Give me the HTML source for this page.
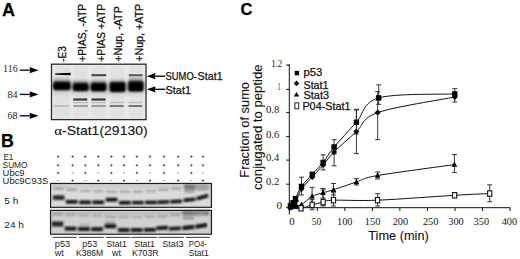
<!DOCTYPE html>
<html><head><meta charset="utf-8"><style>
html,body{margin:0;padding:0;background:#fff;width:520px;height:259px;overflow:hidden;}
svg{display:block;}
text{stroke:currentColor;stroke-width:0.25px;}
text.n{stroke:none;}
text.l{stroke-width:0.1px;}
</style></head><body>
<svg width="520" height="259" viewBox="0 0 520 259">
<defs>
<filter id="b1" x="-5%" y="-5%" width="110%" height="110%"><feGaussianBlur stdDeviation="1.0"/></filter>
<filter id="b3" x="-10%" y="-30%" width="120%" height="160%"><feGaussianBlur stdDeviation="0.9"/></filter>
<filter id="b4" x="-10%" y="-50%" width="120%" height="200%"><feGaussianBlur stdDeviation="0.6"/></filter>
<linearGradient id="sm" x1="0" y1="0" x2="0" y2="1"><stop offset="0" stop-color="#888" stop-opacity="0"/><stop offset="1" stop-color="#333"/></linearGradient>
<filter id="b2" x="-5%" y="-10%" width="110%" height="120%"><feGaussianBlur stdDeviation="0.9"/></filter>
</defs>
<rect width="520" height="259" fill="#fff"/>
<text class="" x="1.9" y="15.5" font-family='"Liberation Sans", sans-serif' font-size="18" font-weight="bold" text-anchor="start" fill="#000" color="#000" >A</text>
<text class="" x="1.0" y="147.2" font-family='"Liberation Sans", sans-serif' font-size="17.8" font-weight="bold" text-anchor="start" fill="#000" color="#000" >B</text>
<text class="" x="240.5" y="15.0" font-family='"Liberation Sans", sans-serif' font-size="16.5" font-weight="bold" text-anchor="start" fill="#000" color="#000" >C</text>
<text class="" transform="translate(66.2,61.8) rotate(-90)" font-family='"Liberation Sans", sans-serif' font-size="10" fill="#111" color="#111" textLength="15.6" lengthAdjust="spacingAndGlyphs">-E3</text>
<text class="" transform="translate(85.5,61.8) rotate(-90)" font-family='"Liberation Sans", sans-serif' font-size="10" fill="#111" color="#111" textLength="58" lengthAdjust="spacingAndGlyphs">+PIAS, -ATP</text>
<text class="" transform="translate(104.9,61.8) rotate(-90)" font-family='"Liberation Sans", sans-serif' font-size="10" fill="#111" color="#111" textLength="58" lengthAdjust="spacingAndGlyphs">+PIAS +ATP</text>
<text class="" transform="translate(121.6,61.8) rotate(-90)" font-family='"Liberation Sans", sans-serif' font-size="10" fill="#111" color="#111" textLength="55.6" lengthAdjust="spacingAndGlyphs">+Nup, -ATP</text>
<text class="" transform="translate(142.5,61.8) rotate(-90)" font-family='"Liberation Sans", sans-serif' font-size="10" fill="#111" color="#111" textLength="58" lengthAdjust="spacingAndGlyphs">+Nup, +ATP</text>
<g filter="url(#b1)">
<rect x="51.5" y="64.2" width="94.5" height="55.4" fill="#e9e9e9"/>
<rect x="53.9" y="66" width="15.899999999999999" height="52" fill="#e1e1e1"/>
<rect x="73.6" y="66" width="14.200000000000003" height="52" fill="#e1e1e1"/>
<rect x="91.5" y="66" width="14.099999999999994" height="52" fill="#e1e1e1"/>
<rect x="110.5" y="66" width="14.200000000000003" height="52" fill="#e1e1e1"/>
<rect x="129" y="66" width="13.699999999999989" height="52" fill="#e1e1e1"/>
<rect x="52" y="81" width="93" height="11" fill="#c4c4c4"/>
<rect x="52" y="92" width="93" height="4" fill="#d8d8d8"/>
<rect x="53.4" y="76.5" width="16.9" height="7.5" fill="url(#sm)" opacity="0.95"/>
<rect x="73.1" y="78.5" width="15.200000000000003" height="6.5" fill="url(#sm)" opacity="0.85"/>
<rect x="91.0" y="78" width="15.099999999999994" height="7" fill="url(#sm)" opacity="0.9"/>
<rect x="110.0" y="78" width="15.200000000000003" height="6.5" fill="url(#sm)" opacity="0.85"/>
<rect x="128.5" y="75.5" width="14.699999999999989" height="8.0" fill="url(#sm)" opacity="1.0"/>
</g>
<g filter="url(#b3)">
<rect x="52.9" y="82.0" width="17.9" height="8.299999999999997" rx="3" fill="#000"/>
<rect x="72.6" y="83.2" width="16.200000000000003" height="8.0" rx="3" fill="#000"/>
<rect x="90.5" y="83.1" width="16.099999999999994" height="8.300000000000011" rx="3" fill="#000"/>
<rect x="109.5" y="82.2" width="16.200000000000003" height="10.0" rx="3" fill="#000"/>
<rect x="128" y="81.6" width="15.699999999999989" height="10.200000000000003" rx="3" fill="#000"/>
</g>
<g filter="url(#b4)">
<path d="M55.2 73.5 L70.6 72.8 L70.6 75.2 L55.2 74.8 Z" fill="#000"/>
<rect x="91.5" y="74.2" width="14.8" height="2" fill="#444"/>
<rect x="128.8" y="74.2" width="13.8" height="2" fill="#5a5a5a"/>
<rect x="73.3" y="98.4" width="14" height="2.2" fill="#3a3a3a"/>
<rect x="91.4" y="98.4" width="14.2" height="2.2" fill="#3a3a3a"/>
<rect x="73.3" y="105" width="14.700000000000003" height="2" fill="#a0a0a0"/>
<rect x="91.4" y="105" width="14.599999999999994" height="2" fill="#a0a0a0"/>
<rect x="109.7" y="105" width="14.0" height="2" fill="#7a7a7a"/>
<rect x="128.4" y="105" width="13.900000000000006" height="2" fill="#7a7a7a"/>
<rect x="53.7" y="105" width="15.0" height="2" fill="#c0c0c0"/>
<rect x="109.7" y="101.8" width="14.0" height="1.5" fill="#c0c0c0"/>
<rect x="128.4" y="101.8" width="13.900000000000006" height="1.5" fill="#c0c0c0"/>
<rect x="73.3" y="101.8" width="14.700000000000003" height="1.5" fill="#c0c0c0"/>
<rect x="91.4" y="101.8" width="14.599999999999994" height="1.5" fill="#c0c0c0"/>
</g>
<rect x="51.5" y="64.2" width="94.5" height="55.4" fill="none" stroke="#2a2a2a" stroke-width="1.3"/>
<text class="n" x="3.0" y="72.4" font-family='"Liberation Serif", serif' font-size="10" font-weight="normal" text-anchor="start" fill="#222" color="#222" >116</text>
<line x1="19.8" y1="70.2" x2="31" y2="70.2" stroke="#111" stroke-width="1.4"/>
<path d="M38.6 70.2 L29.4 67.10000000000001 L30.4 70.2 L29.4 73.3 Z" fill="#000"/>
<text class="n" x="7.5" y="97.5" font-family='"Liberation Serif", serif' font-size="10" font-weight="normal" text-anchor="start" fill="#222" color="#222" >84</text>
<line x1="19.8" y1="94.4" x2="31" y2="94.4" stroke="#111" stroke-width="1.4"/>
<path d="M38.6 94.4 L29.4 91.30000000000001 L30.4 94.4 L29.4 97.5 Z" fill="#000"/>
<text class="n" x="7.5" y="118.8" font-family='"Liberation Serif", serif' font-size="10" font-weight="normal" text-anchor="start" fill="#222" color="#222" >68</text>
<line x1="19.8" y1="115.8" x2="31" y2="115.8" stroke="#111" stroke-width="1.4"/>
<path d="M38.6 115.8 L29.4 112.7 L30.4 115.8 L29.4 118.89999999999999 Z" fill="#000"/>
<line x1="154" y1="76.2" x2="165.3" y2="76.2" stroke="#111" stroke-width="1.4"/>
<path d="M146.8 76.2 L155.6 73.10000000000001 L154.6 76.2 L155.6 79.3 Z" fill="#000"/>
<line x1="154" y1="89.3" x2="165.3" y2="89.3" stroke="#111" stroke-width="1.4"/>
<path d="M146.8 89.3 L155.6 86.2 L154.6 89.3 L155.6 92.39999999999999 Z" fill="#000"/>
<text class="" x="165.6" y="79.9" font-family='"Liberation Sans", sans-serif' font-size="10.6" font-weight="normal" text-anchor="start" fill="#111" color="#111" textLength="31.2" lengthAdjust="spacingAndGlyphs" >SUMO-</text>
<text class="" x="197.6" y="79.9" font-family='"Liberation Sans", sans-serif' font-size="10.6" font-weight="normal" text-anchor="start" fill="#111" color="#111" textLength="25.0" lengthAdjust="spacingAndGlyphs" >Stat1</text>
<text class="" x="165.6" y="93.9" font-family='"Liberation Sans", sans-serif' font-size="10.6" font-weight="normal" text-anchor="start" fill="#111" color="#111" textLength="25.4" lengthAdjust="spacingAndGlyphs" >Stat1</text>
<text class="l" x="54.2" y="135.3" font-family='"Liberation Sans", sans-serif' font-size="12.2" font-weight="normal" text-anchor="start" fill="#111" color="#111" textLength="93.5" lengthAdjust="spacingAndGlyphs" ><tspan font-family='"Liberation Serif", serif' font-size="13">&#945;</tspan>-Stat1(29130)</text>
<text class="n" x="3.4" y="159.5" font-family='"Liberation Sans", sans-serif' font-size="9.7" font-weight="normal" text-anchor="start" fill="#1a1a1a" color="#1a1a1a" textLength="9.8" lengthAdjust="spacingAndGlyphs" >E1</text>
<text class="n" x="2.6" y="167.6" font-family='"Liberation Sans", sans-serif' font-size="9.7" font-weight="normal" text-anchor="start" fill="#1a1a1a" color="#1a1a1a" textLength="24.9" lengthAdjust="spacingAndGlyphs" >SUMO</text>
<text class="n" x="2.6" y="175.5" font-family='"Liberation Sans", sans-serif' font-size="9.7" font-weight="normal" text-anchor="start" fill="#1a1a1a" color="#1a1a1a" textLength="22.0" lengthAdjust="spacingAndGlyphs" >Ubc9</text>
<text class="n" x="2.6" y="184.1" font-family='"Liberation Sans", sans-serif' font-size="9.7" font-weight="normal" text-anchor="start" fill="#1a1a1a" color="#1a1a1a" textLength="45.6" lengthAdjust="spacingAndGlyphs" >Ubc9C93S</text>
<path d="M56.9 156.6 H59.300000000000004 M58.1 155.4 V157.79999999999998" stroke="#444" stroke-width="0.85"/>
<path d="M56.9 165.3 H59.300000000000004 M58.1 164.10000000000002 V166.5" stroke="#444" stroke-width="0.85"/>
<path d="M56.9 172.9 H59.300000000000004 M58.1 171.70000000000002 V174.1" stroke="#444" stroke-width="0.85"/>
<path d="M57.1 180.6 H59.1" stroke="#777" stroke-width="0.8"/>
<path d="M71.39999999999999 156.6 H73.8 M72.6 155.4 V157.79999999999998" stroke="#444" stroke-width="0.85"/>
<path d="M71.39999999999999 165.3 H73.8 M72.6 164.10000000000002 V166.5" stroke="#444" stroke-width="0.85"/>
<path d="M71.6 172.9 H73.6" stroke="#777" stroke-width="0.8"/>
<path d="M71.39999999999999 180.6 H73.8 M72.6 179.4 V181.79999999999998" stroke="#444" stroke-width="0.85"/>
<path d="M84.1 156.6 H86.5 M85.3 155.4 V157.79999999999998" stroke="#444" stroke-width="0.85"/>
<path d="M84.1 165.3 H86.5 M85.3 164.10000000000002 V166.5" stroke="#444" stroke-width="0.85"/>
<path d="M84.1 172.9 H86.5 M85.3 171.70000000000002 V174.1" stroke="#444" stroke-width="0.85"/>
<path d="M84.3 180.6 H86.3" stroke="#777" stroke-width="0.8"/>
<path d="M97.1 156.6 H99.5 M98.3 155.4 V157.79999999999998" stroke="#444" stroke-width="0.85"/>
<path d="M97.1 165.3 H99.5 M98.3 164.10000000000002 V166.5" stroke="#444" stroke-width="0.85"/>
<path d="M97.3 172.9 H99.3" stroke="#777" stroke-width="0.8"/>
<path d="M97.1 180.6 H99.5 M98.3 179.4 V181.79999999999998" stroke="#444" stroke-width="0.85"/>
<path d="M110.2 156.6 H112.60000000000001 M111.4 155.4 V157.79999999999998" stroke="#444" stroke-width="0.85"/>
<path d="M110.2 165.3 H112.60000000000001 M111.4 164.10000000000002 V166.5" stroke="#444" stroke-width="0.85"/>
<path d="M110.2 172.9 H112.60000000000001 M111.4 171.70000000000002 V174.1" stroke="#444" stroke-width="0.85"/>
<path d="M110.4 180.6 H112.4" stroke="#777" stroke-width="0.8"/>
<path d="M122.89999999999999 156.6 H125.3 M124.1 155.4 V157.79999999999998" stroke="#444" stroke-width="0.85"/>
<path d="M122.89999999999999 165.3 H125.3 M124.1 164.10000000000002 V166.5" stroke="#444" stroke-width="0.85"/>
<path d="M123.1 172.9 H125.1" stroke="#777" stroke-width="0.8"/>
<path d="M122.89999999999999 180.6 H125.3 M124.1 179.4 V181.79999999999998" stroke="#444" stroke-width="0.85"/>
<path d="M135.70000000000002 156.6 H138.1 M136.9 155.4 V157.79999999999998" stroke="#444" stroke-width="0.85"/>
<path d="M135.70000000000002 165.3 H138.1 M136.9 164.10000000000002 V166.5" stroke="#444" stroke-width="0.85"/>
<path d="M135.70000000000002 172.9 H138.1 M136.9 171.70000000000002 V174.1" stroke="#444" stroke-width="0.85"/>
<path d="M135.9 180.6 H137.9" stroke="#777" stroke-width="0.8"/>
<path d="M148.8 156.6 H151.2 M150.0 155.4 V157.79999999999998" stroke="#444" stroke-width="0.85"/>
<path d="M148.8 165.3 H151.2 M150.0 164.10000000000002 V166.5" stroke="#444" stroke-width="0.85"/>
<path d="M149.0 172.9 H151.0" stroke="#777" stroke-width="0.8"/>
<path d="M148.8 180.6 H151.2 M150.0 179.4 V181.79999999999998" stroke="#444" stroke-width="0.85"/>
<path d="M162.9 156.6 H165.29999999999998 M164.1 155.4 V157.79999999999998" stroke="#444" stroke-width="0.85"/>
<path d="M162.9 165.3 H165.29999999999998 M164.1 164.10000000000002 V166.5" stroke="#444" stroke-width="0.85"/>
<path d="M162.9 172.9 H165.29999999999998 M164.1 171.70000000000002 V174.1" stroke="#444" stroke-width="0.85"/>
<path d="M163.1 180.6 H165.1" stroke="#777" stroke-width="0.8"/>
<path d="M177.0 156.6 H179.39999999999998 M178.2 155.4 V157.79999999999998" stroke="#444" stroke-width="0.85"/>
<path d="M177.0 165.3 H179.39999999999998 M178.2 164.10000000000002 V166.5" stroke="#444" stroke-width="0.85"/>
<path d="M177.2 172.9 H179.2" stroke="#777" stroke-width="0.8"/>
<path d="M177.0 180.6 H179.39999999999998 M178.2 179.4 V181.79999999999998" stroke="#444" stroke-width="0.85"/>
<path d="M190.20000000000002 156.6 H192.6 M191.4 155.4 V157.79999999999998" stroke="#444" stroke-width="0.85"/>
<path d="M190.20000000000002 165.3 H192.6 M191.4 164.10000000000002 V166.5" stroke="#444" stroke-width="0.85"/>
<path d="M190.20000000000002 172.9 H192.6 M191.4 171.70000000000002 V174.1" stroke="#444" stroke-width="0.85"/>
<path d="M190.4 180.6 H192.4" stroke="#777" stroke-width="0.8"/>
<path d="M201.70000000000002 156.6 H204.1 M202.9 155.4 V157.79999999999998" stroke="#444" stroke-width="0.85"/>
<path d="M201.70000000000002 165.3 H204.1 M202.9 164.10000000000002 V166.5" stroke="#444" stroke-width="0.85"/>
<path d="M201.9 172.9 H203.9" stroke="#777" stroke-width="0.8"/>
<path d="M201.70000000000002 180.6 H204.1 M202.9 179.4 V181.79999999999998" stroke="#444" stroke-width="0.85"/>
<g filter="url(#b2)">
<rect x="50.6" y="183.5" width="161" height="23.80000000000001" fill="#cfcfcf"/>
<rect x="52" y="188.5" width="158" height="16.80000000000001" fill="#dbdbdb"/>
<rect x="52" y="184" width="158" height="3" fill="#cacaca"/>
<rect x="184" y="184" width="11.5" height="6" fill="#7c7c7c"/>
<rect x="196" y="184" width="13" height="6.5" fill="#a0a0a0"/>
<rect x="53.5" y="187.7" width="10.4" height="2" fill="#8a8a8a"/>
<rect x="66.5" y="188.8" width="10.4" height="2" fill="#949494"/>
<rect x="79.89999999999999" y="190" width="10.4" height="2" fill="#a0a0a0"/>
<rect x="93.1" y="190.3" width="10.4" height="2" fill="#a0a0a0"/>
<rect x="106.39999999999999" y="190.6" width="10.4" height="2" fill="#989898"/>
<rect x="119.7" y="190.6" width="10.4" height="2" fill="#9a9a9a"/>
<rect x="132.70000000000002" y="190.6" width="10.4" height="2" fill="#9a9a9a"/>
<rect x="145.8" y="190.2" width="10.4" height="2" fill="#a0a0a0"/>
<rect x="158.20000000000002" y="188.8" width="10.4" height="2" fill="#9a9a9a"/>
<rect x="171.0" y="187.8" width="10.4" height="2" fill="#9a9a9a"/>
<rect x="184.3" y="190.7" width="10.4" height="2" fill="#8a8a8a"/>
<rect x="197.20000000000002" y="189" width="10.4" height="2" fill="#a8a8a8"/>
</g>
<g filter="url(#b3)">
<path d="M52.900000000000006 195.2 L64.5 195.2 L64.5 200.0 L52.900000000000006 200.0 Z" fill="#2a2a2a"/>
<path d="M65.9 200.0 L77.5 200.0 L77.5 203.60000000000002 L65.9 203.60000000000002 Z" fill="#080808"/>
<path d="M79.3 200.5 L90.89999999999999 200.5 L90.89999999999999 204.10000000000002 L79.3 204.10000000000002 Z" fill="#080808"/>
<path d="M92.5 200.5 L104.1 200.5 L104.1 204.10000000000002 L92.5 204.10000000000002 Z" fill="#080808"/>
<path d="M105.8 197.79999999999998 L117.39999999999999 197.79999999999998 L117.39999999999999 201.6 L105.8 201.6 Z" fill="#101010"/>
<path d="M119.10000000000001 200.89999999999998 L130.70000000000002 200.89999999999998 L130.70000000000002 204.5 L119.10000000000001 204.5 Z" fill="#080808"/>
<path d="M132.1 200.9 L143.70000000000002 200.9 L143.70000000000002 204.29999999999998 L132.1 204.29999999999998 Z" fill="#080808"/>
<path d="M145.2 200.70000000000002 L156.8 200.70000000000002 L156.8 204.1 L145.2 204.1 Z" fill="#080808"/>
<path d="M157.6 200.60000000000002 L169.20000000000002 200.20000000000002 L169.20000000000002 203.6 L157.6 204.0 Z" fill="#080808"/>
<path d="M170.39999999999998 200.10000000000002 L182.0 199.5 L182.0 202.89999999999998 L170.39999999999998 203.5 Z" fill="#080808"/>
<path d="M183.7 198.60000000000002 L195.3 197.5 L195.3 200.89999999999998 L183.7 202.0 Z" fill="#080808"/>
<path d="M196.6 196.7 L208.20000000000002 193.7 L208.20000000000002 197.5 L196.6 200.5 Z" fill="#080808"/>
</g>
<rect x="50.6" y="183.5" width="160.8" height="23.80000000000001" fill="none" stroke="#1e1e1e" stroke-width="1.2"/>
<g filter="url(#b2)">
<rect x="50.6" y="210.4" width="161" height="23.799999999999983" fill="#c4c4c4"/>
<rect x="52" y="215.4" width="158" height="16.799999999999983" fill="#d0d0d0"/>
<rect x="52" y="210.5" width="158" height="3.0" fill="#bcbcbc"/>
<rect x="182.5" y="210.5" width="12.0" height="5.300000000000011" fill="#7a7a7a"/>
<rect x="195" y="210.5" width="13.5" height="5.0" fill="#6c6c6c"/>
<rect x="79" y="223.4" width="11" height="2.9000000000000057" fill="#b0b0b0"/>
<rect x="105" y="221" width="10" height="3.5" fill="#a0a0a0"/>
<rect x="52.3" y="213.3" width="10.4" height="2" fill="#909090"/>
<rect x="65.3" y="213.7" width="10.4" height="2" fill="#989898"/>
<rect x="78.69999999999999" y="214.5" width="10.4" height="2" fill="#a0a0a0"/>
<rect x="91.89999999999999" y="215" width="10.4" height="2" fill="#a4a4a4"/>
<rect x="105.19999999999999" y="216" width="10.4" height="2" fill="#989898"/>
<rect x="118.5" y="216" width="10.4" height="2" fill="#9c9c9c"/>
<rect x="131.50000000000003" y="216" width="10.4" height="2" fill="#a8a8a8"/>
<rect x="144.60000000000002" y="215.8" width="10.4" height="2" fill="#a0a0a0"/>
<rect x="157.00000000000003" y="215.5" width="10.4" height="2" fill="#989898"/>
<rect x="169.8" y="213.9" width="10.4" height="2" fill="#949494"/>
<rect x="183.10000000000002" y="217.3" width="10.4" height="2" fill="#7a7a7a"/>
<rect x="196.00000000000003" y="212.5" width="10.4" height="2" fill="#a0a0a0"/>
</g>
<g filter="url(#b3)">
<path d="M51.7 221.4 L63.3 221.4 L63.3 226.6 L51.7 226.6 Z" fill="#262626"/>
<path d="M64.7 226.7 L76.3 226.7 L76.3 230.5 L64.7 230.5 Z" fill="#080808"/>
<path d="M78.1 227.1 L89.69999999999999 227.1 L89.69999999999999 230.9 L78.1 230.9 Z" fill="#080808"/>
<path d="M91.3 227.29999999999998 L102.89999999999999 227.29999999999998 L102.89999999999999 231.1 L91.3 231.1 Z" fill="#080808"/>
<path d="M104.6 224.2 L116.19999999999999 224.2 L116.19999999999999 228.2 L104.6 228.2 Z" fill="#101010"/>
<path d="M117.9 228.2 L129.5 228.2 L129.5 231.8 L117.9 231.8 Z" fill="#080808"/>
<path d="M130.9 228.2 L142.50000000000003 228.2 L142.50000000000003 231.8 L130.9 231.8 Z" fill="#080808"/>
<path d="M144.0 228.0 L155.60000000000002 228.0 L155.60000000000002 231.60000000000002 L144.0 231.60000000000002 Z" fill="#080808"/>
<path d="M156.4 226.39999999999998 L168.00000000000003 225.79999999999998 L168.00000000000003 229.4 L156.4 230.0 Z" fill="#080808"/>
<path d="M169.2 227.0 L180.8 226.39999999999998 L180.8 230.0 L169.2 230.60000000000002 Z" fill="#080808"/>
<path d="M182.5 226.1 L194.10000000000002 225.1 L194.10000000000002 228.9 L182.5 229.9 Z" fill="#080808"/>
<path d="M195.4 224.8 L207.00000000000003 223.0 L207.00000000000003 227.0 L195.4 228.8 Z" fill="#080808"/>
</g>
<rect x="50.6" y="210.4" width="160.8" height="23.799999999999983" fill="none" stroke="#1e1e1e" stroke-width="1.2"/>
<text class="n" x="4.3" y="204.3" font-family='"Liberation Sans", sans-serif' font-size="9.4" font-weight="normal" text-anchor="start" fill="#1a1a1a" color="#1a1a1a" textLength="14" lengthAdjust="spacingAndGlyphs" >5 h</text>
<text class="n" x="4.3" y="227.5" font-family='"Liberation Sans", sans-serif' font-size="9.4" font-weight="normal" text-anchor="start" fill="#1a1a1a" color="#1a1a1a" textLength="19.7" lengthAdjust="spacingAndGlyphs" >24 h</text>
<line x1="52.7" y1="237.4" x2="76.7" y2="237.4" stroke="#4a4a4a" stroke-width="1.1"/>
<line x1="79.2" y1="237.4" x2="103.7" y2="237.4" stroke="#4a4a4a" stroke-width="1.1"/>
<line x1="105.6" y1="237.4" x2="130.6" y2="237.4" stroke="#4a4a4a" stroke-width="1.1"/>
<line x1="131.5" y1="237.4" x2="157" y2="237.4" stroke="#4a4a4a" stroke-width="1.1"/>
<line x1="158.5" y1="237.4" x2="183.8" y2="237.4" stroke="#4a4a4a" stroke-width="1.1"/>
<line x1="185.8" y1="237.4" x2="209.8" y2="237.4" stroke="#4a4a4a" stroke-width="1.1"/>
<text class="n" x="54.8" y="246.5" font-family='"Liberation Sans", sans-serif' font-size="8.2" font-weight="normal" text-anchor="start" fill="#1a1a1a" color="#1a1a1a" textLength="15.4" lengthAdjust="spacingAndGlyphs" >p53</text>
<text class="n" x="54.8" y="256.2" font-family='"Liberation Sans", sans-serif' font-size="8.2" font-weight="normal" text-anchor="start" fill="#1a1a1a" color="#1a1a1a" textLength="9.0" lengthAdjust="spacingAndGlyphs" >wt</text>
<text class="n" x="82.3" y="246.5" font-family='"Liberation Sans", sans-serif' font-size="8.2" font-weight="normal" text-anchor="start" fill="#1a1a1a" color="#1a1a1a" textLength="15.0" lengthAdjust="spacingAndGlyphs" >p53</text>
<text class="n" x="76.0" y="256.2" font-family='"Liberation Sans", sans-serif' font-size="8.2" font-weight="normal" text-anchor="start" fill="#1a1a1a" color="#1a1a1a" textLength="27.1" lengthAdjust="spacingAndGlyphs" >K386M</text>
<text class="n" x="106.5" y="246.5" font-family='"Liberation Sans", sans-serif' font-size="8.2" font-weight="normal" text-anchor="start" fill="#1a1a1a" color="#1a1a1a" textLength="20.2" lengthAdjust="spacingAndGlyphs" >Stat1</text>
<text class="n" x="112" y="256.2" font-family='"Liberation Sans", sans-serif' font-size="8.2" font-weight="normal" text-anchor="start" fill="#1a1a1a" color="#1a1a1a" textLength="9.0" lengthAdjust="spacingAndGlyphs" >wt</text>
<text class="n" x="134.2" y="246.5" font-family='"Liberation Sans", sans-serif' font-size="8.2" font-weight="normal" text-anchor="start" fill="#1a1a1a" color="#1a1a1a" textLength="20.8" lengthAdjust="spacingAndGlyphs" >Stat1</text>
<text class="n" x="132" y="256.2" font-family='"Liberation Sans", sans-serif' font-size="8.2" font-weight="normal" text-anchor="start" fill="#1a1a1a" color="#1a1a1a" textLength="26.5" lengthAdjust="spacingAndGlyphs" >K703R</text>
<text class="n" x="162.3" y="246.5" font-family='"Liberation Sans", sans-serif' font-size="8.2" font-weight="normal" text-anchor="start" fill="#1a1a1a" color="#1a1a1a" textLength="21.2" lengthAdjust="spacingAndGlyphs" >Stat3</text>
<text class="n" x="188.7" y="246.5" font-family='"Liberation Sans", sans-serif' font-size="8.2" font-weight="normal" text-anchor="start" fill="#1a1a1a" color="#1a1a1a" textLength="18.3" lengthAdjust="spacingAndGlyphs" >PO4-</text>
<text class="n" x="188.7" y="256.2" font-family='"Liberation Sans", sans-serif' font-size="8.2" font-weight="normal" text-anchor="start" fill="#1a1a1a" color="#1a1a1a" textLength="20.1" lengthAdjust="spacingAndGlyphs" >Stat1</text>
<text class="l" transform="translate(248.6,177.7) rotate(-90)" font-family='"Liberation Sans", sans-serif' font-size="13" fill="#111" color="#111" textLength="95.7" lengthAdjust="spacingAndGlyphs">Fraction of sumo</text>
<text class="l" transform="translate(262.0,190.0) rotate(-90)" font-family='"Liberation Sans", sans-serif' font-size="13" fill="#111" color="#111" textLength="125.5" lengthAdjust="spacingAndGlyphs">conjugated to peptide</text>
<line x1="289.3" y1="64.2" x2="289.3" y2="214.5" stroke="#111" stroke-width="1"/>
<line x1="289.3" y1="207.7" x2="510.2" y2="207.7" stroke="#111" stroke-width="1"/>
<line x1="286.2" y1="65.0" x2="289.3" y2="65.0" stroke="#111" stroke-width="1"/>
<line x1="286.2" y1="89.4" x2="289.3" y2="89.4" stroke="#111" stroke-width="1"/>
<line x1="286.2" y1="112.6" x2="289.3" y2="112.6" stroke="#111" stroke-width="1"/>
<line x1="286.2" y1="136.6" x2="289.3" y2="136.6" stroke="#111" stroke-width="1"/>
<line x1="286.2" y1="160.1" x2="289.3" y2="160.1" stroke="#111" stroke-width="1"/>
<line x1="286.2" y1="184.2" x2="289.3" y2="184.2" stroke="#111" stroke-width="1"/>
<line x1="286.2" y1="207.7" x2="289.3" y2="207.7" stroke="#111" stroke-width="1"/>
<line x1="289.8" y1="207.7" x2="289.8" y2="211" stroke="#111" stroke-width="1"/>
<line x1="317.3" y1="207.7" x2="317.3" y2="211" stroke="#111" stroke-width="1"/>
<line x1="344.9" y1="207.7" x2="344.9" y2="211" stroke="#111" stroke-width="1"/>
<line x1="372.4" y1="207.7" x2="372.4" y2="211" stroke="#111" stroke-width="1"/>
<line x1="399.9" y1="207.7" x2="399.9" y2="211" stroke="#111" stroke-width="1"/>
<line x1="427.4" y1="207.7" x2="427.4" y2="211" stroke="#111" stroke-width="1"/>
<line x1="455.0" y1="207.7" x2="455.0" y2="211" stroke="#111" stroke-width="1"/>
<line x1="482.5" y1="207.7" x2="482.5" y2="211" stroke="#111" stroke-width="1"/>
<line x1="510.0" y1="207.7" x2="510.0" y2="211" stroke="#111" stroke-width="1"/>
<text class="n" x="271.2" y="67.0" font-family='"Liberation Serif", serif' font-size="9.6" font-weight="normal" text-anchor="start" fill="#1a1a1a" color="#1a1a1a" textLength="11.1" lengthAdjust="spacingAndGlyphs" >1.2</text>
<text class="n" x="277.8" y="89.7" font-family='"Liberation Serif", serif' font-size="9.6" font-weight="normal" text-anchor="start" fill="#1a1a1a" color="#1a1a1a" textLength="2.8" lengthAdjust="spacingAndGlyphs" >1</text>
<text class="n" x="265.9" y="113.0" font-family='"Liberation Serif", serif' font-size="9.6" font-weight="normal" text-anchor="start" fill="#1a1a1a" color="#1a1a1a" textLength="13.4" lengthAdjust="spacingAndGlyphs" >0.8</text>
<text class="n" x="266" y="137.6" font-family='"Liberation Serif", serif' font-size="9.6" font-weight="normal" text-anchor="start" fill="#1a1a1a" color="#1a1a1a" textLength="13.4" lengthAdjust="spacingAndGlyphs" >0.6</text>
<text class="n" x="266" y="160.6" font-family='"Liberation Serif", serif' font-size="9.6" font-weight="normal" text-anchor="start" fill="#1a1a1a" color="#1a1a1a" textLength="13.2" lengthAdjust="spacingAndGlyphs" >0.4</text>
<text class="n" x="266" y="185.1" font-family='"Liberation Serif", serif' font-size="9.6" font-weight="normal" text-anchor="start" fill="#1a1a1a" color="#1a1a1a" textLength="13.2" lengthAdjust="spacingAndGlyphs" >0.2</text>
<text class="n" x="276.4" y="208.5" font-family='"Liberation Serif", serif' font-size="9.6" font-weight="normal" text-anchor="start" fill="#1a1a1a" color="#1a1a1a" textLength="5.6" lengthAdjust="spacingAndGlyphs" >0</text>
<text class="n" x="289.2" y="224.5" font-family='"Liberation Serif", serif' font-size="9.6" font-weight="normal" text-anchor="start" fill="#1a1a1a" color="#1a1a1a" textLength="5.4" lengthAdjust="spacingAndGlyphs" >0</text>
<text class="n" x="311.8" y="224.5" font-family='"Liberation Serif", serif' font-size="9.6" font-weight="normal" text-anchor="start" fill="#1a1a1a" color="#1a1a1a" textLength="9.4" lengthAdjust="spacingAndGlyphs" >50</text>
<text class="n" x="337.0" y="224.5" font-family='"Liberation Serif", serif' font-size="9.6" font-weight="normal" text-anchor="start" fill="#1a1a1a" color="#1a1a1a" textLength="15.5" lengthAdjust="spacingAndGlyphs" >100</text>
<text class="n" x="364.8" y="224.5" font-family='"Liberation Serif", serif' font-size="9.6" font-weight="normal" text-anchor="start" fill="#1a1a1a" color="#1a1a1a" textLength="15.5" lengthAdjust="spacingAndGlyphs" >150</text>
<text class="n" x="392.65" y="224.5" font-family='"Liberation Serif", serif' font-size="9.6" font-weight="normal" text-anchor="start" fill="#1a1a1a" color="#1a1a1a" textLength="15.5" lengthAdjust="spacingAndGlyphs" >200</text>
<text class="n" x="422.95" y="224.5" font-family='"Liberation Serif", serif' font-size="9.6" font-weight="normal" text-anchor="start" fill="#1a1a1a" color="#1a1a1a" textLength="15.5" lengthAdjust="spacingAndGlyphs" >250</text>
<text class="n" x="448.25" y="224.5" font-family='"Liberation Serif", serif' font-size="9.6" font-weight="normal" text-anchor="start" fill="#1a1a1a" color="#1a1a1a" textLength="15.5" lengthAdjust="spacingAndGlyphs" >300</text>
<text class="n" x="473.55" y="224.5" font-family='"Liberation Serif", serif' font-size="9.6" font-weight="normal" text-anchor="start" fill="#1a1a1a" color="#1a1a1a" textLength="15.5" lengthAdjust="spacingAndGlyphs" >350</text>
<text class="n" x="501.65" y="224.5" font-family='"Liberation Serif", serif' font-size="9.6" font-weight="normal" text-anchor="start" fill="#1a1a1a" color="#1a1a1a" textLength="15.5" lengthAdjust="spacingAndGlyphs" >400</text>
<text class="l" x="368.3" y="239.6" font-family='"Liberation Sans", sans-serif' font-size="13" font-weight="normal" text-anchor="start" fill="#111" color="#111" textLength="60.5" lengthAdjust="spacingAndGlyphs" >Time (min)</text>
<rect x="294.7" y="70.9" width="4.4" height="4.4" fill="#000"/>
<path d="M296.5 80.6 L299.3 83.4 L296.5 86.2 L293.7 83.4 Z" fill="#000"/>
<path d="M296.5 92.0 L299.2 96.6 L293.8 96.6 Z" fill="#000"/>
<rect x="294.9" y="102.8" width="3.8" height="6.0" fill="#fff" stroke="#222" stroke-width="1"/>
<text class="" x="303.5" y="76.4" font-family='"Liberation Sans", sans-serif' font-size="11" font-weight="normal" text-anchor="start" fill="#111" color="#111" textLength="18.8" lengthAdjust="spacingAndGlyphs" >p53</text>
<text class="" x="303.5" y="88.6" font-family='"Liberation Sans", sans-serif' font-size="11" font-weight="normal" text-anchor="start" fill="#111" color="#111" textLength="25" lengthAdjust="spacingAndGlyphs" >Stat1</text>
<text class="" x="303.5" y="99.1" font-family='"Liberation Sans", sans-serif' font-size="11" font-weight="normal" text-anchor="start" fill="#111" color="#111" textLength="25.5" lengthAdjust="spacingAndGlyphs" >Stat3</text>
<text class="" x="302.4" y="110.0" font-family='"Liberation Sans", sans-serif' font-size="11" font-weight="normal" text-anchor="start" fill="#111" color="#111" textLength="48.2" lengthAdjust="spacingAndGlyphs" >P04-Stat1</text>
<path d="M290.4 205.8 C290.8 205.3 292.2 204.0 293 202.8 C293.8 201.6 294.0 201.3 295.4 198.6 C296.8 195.9 298.7 190.4 301.5 186.4 C304.3 182.4 308.7 178.3 312.3 174.3 C315.9 170.3 319.5 167.0 323.1 162.4 C326.7 157.8 328.6 153.7 334.1 147 C339.7 140.3 349.0 130.5 356.4 122.3 C363.8 114.1 362.3 102.6 378.7 97.9 C395.1 93.2 442.1 94.6 454.8 93.9" fill="none" stroke="#111" stroke-width="1"/>
<path d="M290.4 207.2 C290.9 206.8 292.3 205.8 293.2 204.8 C294.1 203.8 294.6 203.6 296 201 C297.4 198.4 298.8 193.0 301.5 189 C304.2 185.0 308.7 181.0 312.3 177 C315.9 173.0 319.5 169.2 323.1 165 C326.7 160.8 328.6 157.6 334.1 152 C339.7 146.4 349.1 138.2 356.4 131.6 C363.7 125.0 361.3 118.4 377.7 112.6 C394.1 106.8 441.9 99.6 454.8 97" fill="none" stroke="#111" stroke-width="1"/>
<path d="M290.6 207.6 C291.1 207.4 292.6 206.7 293.6 206.4 C294.6 206.1 295.3 205.9 296.6 205.6 C297.9 205.3 298.9 206.1 301.5 204.6 C304.1 203.1 308.5 198.4 312.1 196.4 C315.7 194.4 319.4 193.9 323 192.8 C326.6 191.7 327.9 191.5 333.5 189.7 C339.1 187.9 349.0 184.4 356.4 182 C363.8 179.6 361.3 178.4 377.6 175.5 C393.9 172.6 441.6 166.4 454.4 164.6" fill="none" stroke="#111" stroke-width="1"/>
<path d="M290.5 208 C292.2 208.1 297.4 208.8 301 208.3 C304.6 207.8 308.4 205.9 312.1 204.9 C315.8 203.9 319.5 202.9 323.1 202.1 C326.7 201.3 324.4 200.5 333.5 200.2 C342.6 199.9 357.4 201.0 377.6 200.2 C397.8 199.4 435.9 196.4 454.6 195.3 C473.3 194.2 483.9 193.8 489.7 193.5" fill="none" stroke="#111" stroke-width="1"/>
<path d="M301.5 177.2 V195 M299.0 177.2 H304.0 M299.0 195 H304.0" stroke="#222" stroke-width="0.9" fill="none"/>
<path d="M323.1 154.8 V169.9 M320.6 154.8 H325.6 M320.6 169.9 H325.6" stroke="#222" stroke-width="0.9" fill="none"/>
<path d="M334.1 139.7 V154 M331.6 139.7 H336.6 M331.6 154 H336.6" stroke="#222" stroke-width="0.9" fill="none"/>
<path d="M356.4 109.3 V134 M353.9 109.3 H358.9 M353.9 134 H358.9" stroke="#222" stroke-width="0.9" fill="none"/>
<path d="M378.7 84.9 V104.3 M376.2 84.9 H381.2 M376.2 104.3 H381.2" stroke="#222" stroke-width="0.9" fill="none"/>
<path d="M454.8 88.7 V102 M452.3 88.7 H457.3 M452.3 102 H457.3" stroke="#222" stroke-width="0.9" fill="none"/>
<path d="M334.1 146 V165.8 M331.6 146 H336.6 M331.6 165.8 H336.6" stroke="#222" stroke-width="0.9" fill="none"/>
<path d="M356.4 110 V153.6 M353.9 110 H358.9 M353.9 153.6 H358.9" stroke="#222" stroke-width="0.9" fill="none"/>
<path d="M377.7 91.6 V139.7 M375.2 91.6 H380.2 M375.2 139.7 H380.2" stroke="#222" stroke-width="0.9" fill="none"/>
<path d="M312.1 187.4 V205 M309.6 187.4 H314.6 M309.6 205 H314.6" stroke="#222" stroke-width="0.9" fill="none"/>
<path d="M323 188.5 V198 M320.5 188.5 H325.5 M320.5 198 H325.5" stroke="#222" stroke-width="0.9" fill="none"/>
<path d="M333.5 183.5 V195 M331.0 183.5 H336.0 M331.0 195 H336.0" stroke="#222" stroke-width="0.9" fill="none"/>
<path d="M356.4 178.6 V185 M353.9 178.6 H358.9 M353.9 185 H358.9" stroke="#222" stroke-width="0.9" fill="none"/>
<path d="M377.6 172 V179 M375.1 172 H380.1 M375.1 179 H380.1" stroke="#222" stroke-width="0.9" fill="none"/>
<path d="M454.4 154.5 V172.6 M451.9 154.5 H456.9 M451.9 172.6 H456.9" stroke="#222" stroke-width="0.9" fill="none"/>
<path d="M312.1 199.6 V209.7 M309.6 199.6 H314.6 M309.6 209.7 H314.6" stroke="#222" stroke-width="0.9" fill="none"/>
<path d="M323.1 190 V206 M320.6 190 H325.6 M320.6 206 H325.6" stroke="#222" stroke-width="0.9" fill="none"/>
<path d="M333.5 192.8 V206 M331.0 192.8 H336.0 M331.0 206 H336.0" stroke="#222" stroke-width="0.9" fill="none"/>
<path d="M377.6 193.6 V206 M375.1 193.6 H380.1 M375.1 206 H380.1" stroke="#222" stroke-width="0.9" fill="none"/>
<path d="M489.7 184.8 V201.7 M487.2 184.8 H492.2 M487.2 201.7 H492.2" stroke="#222" stroke-width="0.9" fill="none"/>
<rect x="287.7" y="203.10000000000002" width="5.4" height="5.4" fill="#000"/>
<rect x="290.3" y="200.10000000000002" width="5.4" height="5.4" fill="#000"/>
<rect x="292.7" y="195.9" width="5.4" height="5.4" fill="#000"/>
<rect x="298.8" y="183.70000000000002" width="5.4" height="5.4" fill="#000"/>
<rect x="309.6" y="171.60000000000002" width="5.4" height="5.4" fill="#000"/>
<rect x="320.40000000000003" y="159.70000000000002" width="5.4" height="5.4" fill="#000"/>
<rect x="331.40000000000003" y="144.3" width="5.4" height="5.4" fill="#000"/>
<rect x="353.7" y="119.6" width="5.4" height="5.4" fill="#000"/>
<rect x="376.0" y="95.2" width="5.4" height="5.4" fill="#000"/>
<rect x="452.1" y="91.2" width="5.4" height="5.4" fill="#000"/>
<path d="M290.4 204.2 L293.4 207.2 L290.4 210.2 L287.4 207.2 Z" fill="#000"/>
<path d="M293.2 201.8 L296.2 204.8 L293.2 207.8 L290.2 204.8 Z" fill="#000"/>
<path d="M296 198 L299 201 L296 204 L293 201 Z" fill="#000"/>
<path d="M301.5 186 L304.5 189 L301.5 192 L298.5 189 Z" fill="#000"/>
<path d="M312.3 174 L315.3 177 L312.3 180 L309.3 177 Z" fill="#000"/>
<path d="M323.1 162 L326.1 165 L323.1 168 L320.1 165 Z" fill="#000"/>
<path d="M334.1 149 L337.1 152 L334.1 155 L331.1 152 Z" fill="#000"/>
<path d="M356.4 128.6 L359.4 131.6 L356.4 134.6 L353.4 131.6 Z" fill="#000"/>
<path d="M377.7 109.6 L380.7 112.6 L377.7 115.6 L374.7 112.6 Z" fill="#000"/>
<path d="M454.8 94 L457.8 97 L454.8 100 L451.8 97 Z" fill="#000"/>
<path d="M290.6 204.4 L293.40000000000003 209.79999999999998 L287.8 209.79999999999998 Z" fill="#000"/>
<path d="M293.6 203.20000000000002 L296.40000000000003 208.6 L290.8 208.6 Z" fill="#000"/>
<path d="M296.6 202.4 L299.40000000000003 207.79999999999998 L293.8 207.79999999999998 Z" fill="#000"/>
<path d="M301.5 201.4 L304.3 206.79999999999998 L298.7 206.79999999999998 Z" fill="#000"/>
<path d="M312.1 193.20000000000002 L314.90000000000003 198.6 L309.3 198.6 Z" fill="#000"/>
<path d="M323 189.60000000000002 L325.8 195.0 L320.2 195.0 Z" fill="#000"/>
<path d="M333.5 186.5 L336.3 191.89999999999998 L330.7 191.89999999999998 Z" fill="#000"/>
<path d="M356.4 178.8 L359.2 184.2 L353.59999999999997 184.2 Z" fill="#000"/>
<path d="M377.6 172.3 L380.40000000000003 177.7 L374.8 177.7 Z" fill="#000"/>
<path d="M454.4 161.4 L457.2 166.79999999999998 L451.59999999999997 166.79999999999998 Z" fill="#000"/>
<rect x="298.9" y="205.60000000000002" width="4.2" height="5.4" fill="#fff" stroke="#111" stroke-width="1.1"/>
<rect x="310.0" y="202.20000000000002" width="4.2" height="5.4" fill="#fff" stroke="#111" stroke-width="1.1"/>
<rect x="321.0" y="199.4" width="4.2" height="5.4" fill="#fff" stroke="#111" stroke-width="1.1"/>
<rect x="331.4" y="197.5" width="4.2" height="5.4" fill="#fff" stroke="#111" stroke-width="1.1"/>
<rect x="375.5" y="197.5" width="4.2" height="5.4" fill="#fff" stroke="#111" stroke-width="1.1"/>
<rect x="452.5" y="192.60000000000002" width="4.2" height="5.4" fill="#fff" stroke="#111" stroke-width="1.1"/>
<rect x="487.59999999999997" y="190.8" width="4.2" height="5.4" fill="#fff" stroke="#111" stroke-width="1.1"/>
</svg>
</body></html>
